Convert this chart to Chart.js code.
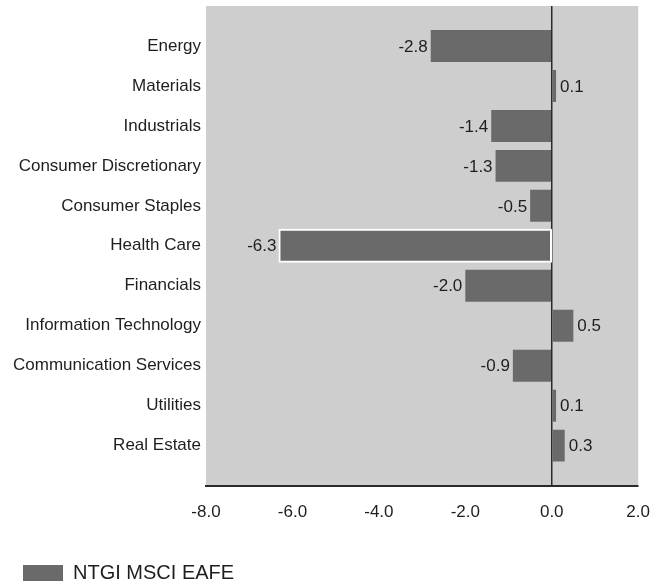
<!DOCTYPE html>
<html>
<head>
<meta charset="utf-8">
<script src="https://cdn.jsdelivr.net/npm/chart.js@4/dist/chart.umd.min.js"></script>
<style>
  html, body { margin: 0; padding: 0; background: #fff; }
  #wrap { width: 667px; height: 584px; }
</style>
</head>
<body>
<div id="wrap"><canvas id="chart" width="667" height="584"></canvas></div>
<script>
const sectors = ['Energy', 'Materials', 'Industrials', 'Consumer Discretionary', 'Consumer Staples',
  'Health Care', 'Financials', 'Information Technology', 'Communication Services', 'Utilities', 'Real Estate'];
const returns = [-2.8, 0.1, -1.4, -1.3, -0.5, -6.3, -2.0, 0.5, -0.9, 0.1, 0.3];
const xTicks = [-8, -6, -4, -2, 0, 2];
const seriesName = 'NTGI MSCI EAFE';
const highlighted = 'Health Care';

const FONT = '"Liberation Sans", Arial, sans-serif';
const TEXT = '#1e1e1e';
const BAR = '#6a6a6a';

// grey panel behind the bars
const panelBg = {
  id: 'panelBg',
  beforeDraw(chart) {
    const { ctx, chartArea: a } = chart;
    ctx.save();
    ctx.fillStyle = '#cecece';
    ctx.fillRect(a.left, a.top, a.right - a.left, a.bottom - a.top);
    ctx.restore();
  }
};

// value text next to the end of each bar
const valueLabels = {
  id: 'valueLabels',
  afterDatasetsDraw(chart) {
    const { ctx } = chart;
    const meta = chart.getDatasetMeta(0);
    ctx.save();
    ctx.font = '17px ' + FONT;
    ctx.fillStyle = TEXT;
    ctx.textBaseline = 'middle';
    meta.data.forEach((bar, i) => {
      const v = returns[i];
      const txt = v.toFixed(1);
      if (v < 0) {
        ctx.textAlign = 'right';
        ctx.fillText(txt, bar.x - 3, bar.y + 1);
      } else {
        ctx.textAlign = 'left';
        ctx.fillText(txt, bar.x + 4, bar.y + 1);
      }
    });
    ctx.restore();
  }
};

new Chart(document.getElementById('chart'), {
  type: 'bar',
  data: {
    datasets: [{
      label: seriesName,
      data: returns.map((v, i) => ({ x: v, y: i })),
      backgroundColor: BAR,
      borderColor: '#ffffff',
      borderWidth: c => sectors[c.dataIndex] === highlighted ? 2 : 0,
      inflateAmount: c => sectors[c.dataIndex] === highlighted ? 1 : 'auto',
      borderSkipped: false,
      categoryPercentage: 1,
      barPercentage: 0.8
    }]
  },
  options: {
    indexAxis: 'y',
    responsive: false,
    animation: false,
    layout: { padding: { top: 6, right: 28, bottom: -9, left: 13 } },
    scales: {
      x: {
        type: 'linear',
        min: -8,
        max: 2,
        afterBuildTicks: s => { s.ticks = xTicks.map(v => ({ value: v })); },
        afterFit: s => { s.height += 13; },
        ticks: {
          padding: 17,
          color: TEXT,
          font: { family: FONT, size: 17 },
          callback: v => Number(v).toFixed(1)
        },
        grid: {
          drawTicks: false,
          lineWidth: 1.5,
          color: c => (c.tick && c.tick.value === 0) ? '#2a2a2a' : 'rgba(0,0,0,0)'
        },
        border: { display: true, color: '#2a2a2a', width: 2 }
      },
      y: {
        type: 'linear',
        reverse: true,
        offset: false,
        min: -1,
        max: 11,
        afterFit: s => { s.width = 193; s.paddingTop = 0; s.paddingBottom = 0; },
        ticks: {
          stepSize: 1,
          autoSkip: false,
          padding: 5,
          color: TEXT,
          font: { family: FONT, size: 17 },
          callback: v => sectors[v] || ''
        },
        grid: { display: false, drawTicks: false, offset: false },
        border: { display: false }
      }
    },
    plugins: {
      legend: {
        position: 'bottom',
        align: 'start',
        labels: {
          boxWidth: 40,
          boxHeight: 16,
          padding: 10,
          color: TEXT,
          font: { family: FONT, size: 20 }
        }
      },
      tooltip: { enabled: false }
    }
  },
  plugins: [panelBg, valueLabels]
});
</script>
</body>
</html>
